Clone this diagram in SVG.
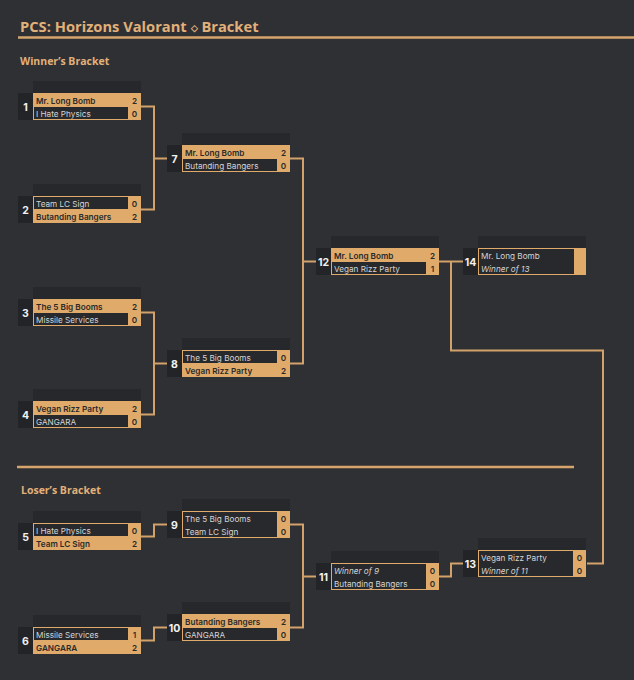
<svg xmlns="http://www.w3.org/2000/svg" width="634" height="680" viewBox="0 0 634 680">
<style>
.bg{fill:#2f3034}
.ttl{font-family:"Open Sans",Lato,sans-serif;font-weight:700;fill:#e2b079}
.hdr{fill:#27282b}
.num{fill:#232427}
.gold{fill:#e0aa6a}
.cell{fill:#28292c}
.n{font-family:Inter,"Liberation Sans",sans-serif;font-weight:700;font-size:10.5px;fill:#f2f2f2;text-anchor:middle}
.w{font-family:Inter,"Liberation Sans",sans-serif;font-weight:600;font-size:8.2px;fill:#2a2a2a}
.l{font-family:Inter,"Liberation Sans",sans-serif;font-size:8.2px;fill:#d4d4d4}
.i{font-family:Inter,"Liberation Sans",sans-serif;font-style:italic;font-size:8.2px;fill:#d4d4d4}
.s{font-family:Inter,"Liberation Sans",sans-serif;font-weight:600;font-size:8.2px;fill:#2a2a2a;text-anchor:middle}
.rule{stroke:#d6a46c;stroke-width:2.5;fill:none}
.con{stroke:#d3a16a;stroke-width:2;fill:none}
</style>
<rect class="bg" x="0" y="0" width="634" height="680"/>
<text class="ttl" x="20" y="32" font-size="14.7">PCS: Horizons Valorant <tspan font-size="9" dy="-1.5">◇</tspan><tspan dy="1.5"> Bracket</tspan></text>
<line class="rule" x1="18" y1="37.5" x2="634" y2="37.5"/>
<text class="ttl" x="20" y="64.5" font-size="10.5">Winner’s Bracket</text>
<line class="rule" x1="17" y1="467" x2="574" y2="467"/>
<text class="ttl" x="21" y="494" font-size="10.5">Loser’s Bracket</text>

<g id="connectors">
<path class="con" d="M141,106.5 H154 V209.5 H141 M154,158.5 H167"/>
<path class="con" d="M141,312.5 H154 V414.5 H141 M154,363.5 H167"/>
<path class="con" d="M290,158.5 H303 V363.5 H290 M303,261.5 H316"/>
<path class="con" d="M438,261.5 H463"/>
<path class="con" d="M451,261.5 V350.5 H603 V563.5 H587"/>
<path class="con" d="M141,536.5 H154 V524.5 H167"/>
<path class="con" d="M141,640.5 H154 V627.5 H167"/>
<path class="con" d="M290,524.5 H303 V627.5 H290 M303,576.5 H316"/>
<path class="con" d="M438,576.5 H451 V563.5 H463"/>
</g>

<g id="m1" transform="translate(33,93)">
<rect class="hdr" x="0" y="-12" width="108" height="12"/><rect class="num" x="-15" y="0" width="15" height="27"/><text class="n" x="-7.5" y="17.5">1</text>
<rect class="gold" x="0" y="0" width="108" height="27"/><rect class="cell" x="1" y="14" width="94" height="12"/>
<text class="w" x="3" y="10.5">Mr. Long Bomb</text><text class="s" x="101.5" y="10.5">2</text>
<text class="l" x="3" y="23.5">I Hate Physics</text><text class="s" x="101.5" y="23.5">0</text>
</g>
<g id="m2" transform="translate(33,196)">
<rect class="hdr" x="0" y="-12" width="108" height="12"/><rect class="num" x="-15" y="0" width="15" height="27"/><text class="n" x="-7.5" y="17.5">2</text>
<rect class="gold" x="0" y="0" width="108" height="27"/><rect class="cell" x="1" y="1" width="94" height="12"/>
<text class="l" x="3" y="10.5">Team LC Sign</text><text class="s" x="101.5" y="10.5">0</text>
<text class="w" x="3" y="23.5">Butanding Bangers</text><text class="s" x="101.5" y="23.5">2</text>
</g>
<g id="m3" transform="translate(33,299)">
<rect class="hdr" x="0" y="-12" width="108" height="12"/><rect class="num" x="-15" y="0" width="15" height="27"/><text class="n" x="-7.5" y="17.5">3</text>
<rect class="gold" x="0" y="0" width="108" height="27"/><rect class="cell" x="1" y="14" width="94" height="12"/>
<text class="w" x="3" y="10.5">The 5 Big Booms</text><text class="s" x="101.5" y="10.5">2</text>
<text class="l" x="3" y="23.5">Missile Services</text><text class="s" x="101.5" y="23.5">0</text>
</g>
<g id="m4" transform="translate(33,401)">
<rect class="hdr" x="0" y="-12" width="108" height="12"/><rect class="num" x="-15" y="0" width="15" height="27"/><text class="n" x="-7.5" y="17.5">4</text>
<rect class="gold" x="0" y="0" width="108" height="27"/><rect class="cell" x="1" y="14" width="94" height="12"/>
<text class="w" x="3" y="10.5">Vegan Rizz Party</text><text class="s" x="101.5" y="10.5">2</text>
<text class="l" x="3" y="23.5">GANGARA</text><text class="s" x="101.5" y="23.5">0</text>
</g>
<g id="m7" transform="translate(182,145)">
<rect class="hdr" x="0" y="-12" width="108" height="12"/><rect class="num" x="-15" y="0" width="15" height="27"/><text class="n" x="-7.5" y="17.5">7</text>
<rect class="gold" x="0" y="0" width="108" height="27"/><rect class="cell" x="1" y="14" width="94" height="12"/>
<text class="w" x="3" y="10.5">Mr. Long Bomb</text><text class="s" x="101.5" y="10.5">2</text>
<text class="l" x="3" y="23.5">Butanding Bangers</text><text class="s" x="101.5" y="23.5">0</text>
</g>
<g id="m8" transform="translate(182,350)">
<rect class="hdr" x="0" y="-12" width="108" height="12"/><rect class="num" x="-15" y="0" width="15" height="27"/><text class="n" x="-7.5" y="17.5">8</text>
<rect class="gold" x="0" y="0" width="108" height="27"/><rect class="cell" x="1" y="1" width="94" height="12"/>
<text class="l" x="3" y="10.5">The 5 Big Booms</text><text class="s" x="101.5" y="10.5">0</text>
<text class="w" x="3" y="23.5">Vegan Rizz Party</text><text class="s" x="101.5" y="23.5">2</text>
</g>
<g id="m12" transform="translate(331,248)">
<rect class="hdr" x="0" y="-12" width="108" height="12"/><rect class="num" x="-15" y="0" width="15" height="27"/><text class="n" x="-7.5" y="17.5">12</text>
<rect class="gold" x="0" y="0" width="108" height="27"/><rect class="cell" x="1" y="14" width="94" height="12"/>
<text class="w" x="3" y="10.5">Mr. Long Bomb</text><text class="s" x="101.5" y="10.5">2</text>
<text class="l" x="3" y="23.5">Vegan Rizz Party</text><text class="s" x="101.5" y="23.5">1</text>
</g>
<g id="m14" transform="translate(478,248)">
<rect class="hdr" x="0" y="-12" width="108" height="12"/><rect class="num" x="-15" y="0" width="15" height="27"/><text class="n" x="-7.5" y="17.5">14</text>
<rect class="gold" x="0" y="0" width="108" height="27"/><rect class="cell" x="1" y="1" width="95" height="25"/>
<text class="l" x="3" y="10.5">Mr. Long Bomb</text>
<text class="i" x="3" y="23.5">Winner of 13</text>
</g>
<g id="m5" transform="translate(33,523)">
<rect class="hdr" x="0" y="-12" width="108" height="12"/><rect class="num" x="-15" y="0" width="15" height="27"/><text class="n" x="-7.5" y="17.5">5</text>
<rect class="gold" x="0" y="0" width="108" height="27"/><rect class="cell" x="1" y="1" width="94" height="12"/>
<text class="l" x="3" y="10.5">I Hate Physics</text><text class="s" x="101.5" y="10.5">0</text>
<text class="w" x="3" y="23.5">Team LC Sign</text><text class="s" x="101.5" y="23.5">2</text>
</g>
<g id="m6" transform="translate(33,627)">
<rect class="hdr" x="0" y="-12" width="108" height="12"/><rect class="num" x="-15" y="0" width="15" height="27"/><text class="n" x="-7.5" y="17.5">6</text>
<rect class="gold" x="0" y="0" width="108" height="27"/><rect class="cell" x="1" y="1" width="94" height="12"/>
<text class="l" x="3" y="10.5">Missile Services</text><text class="s" x="101.5" y="10.5">1</text>
<text class="w" x="3" y="23.5">GANGARA</text><text class="s" x="101.5" y="23.5">2</text>
</g>
<g id="m9" transform="translate(182,511)">
<rect class="hdr" x="0" y="-12" width="108" height="12"/><rect class="num" x="-15" y="0" width="15" height="27"/><text class="n" x="-7.5" y="17.5">9</text>
<rect class="gold" x="0" y="0" width="108" height="27"/><rect class="cell" x="1" y="1" width="94" height="25"/>
<text class="l" x="3" y="10.5">The 5 Big Booms</text><text class="s" x="101.5" y="10.5">0</text>
<text class="l" x="3" y="23.5">Team LC Sign</text><text class="s" x="101.5" y="23.5">0</text>
</g>
<g id="m10" transform="translate(182,614)">
<rect class="hdr" x="0" y="-12" width="108" height="12"/><rect class="num" x="-15" y="0" width="15" height="27"/><text class="n" x="-7.5" y="17.5">10</text>
<rect class="gold" x="0" y="0" width="108" height="27"/><rect class="cell" x="1" y="14" width="94" height="12"/>
<text class="w" x="3" y="10.5">Butanding Bangers</text><text class="s" x="101.5" y="10.5">2</text>
<text class="l" x="3" y="23.5">GANGARA</text><text class="s" x="101.5" y="23.5">0</text>
</g>
<g id="m11" transform="translate(331,563)">
<rect class="hdr" x="0" y="-12" width="108" height="12"/><rect class="num" x="-15" y="0" width="15" height="27"/><text class="n" x="-7.5" y="17.5">11</text>
<rect class="gold" x="0" y="0" width="108" height="27"/><rect class="cell" x="1" y="1" width="94" height="25"/>
<text class="i" x="3" y="10.5">Winner of 9</text><text class="s" x="101.5" y="10.5">0</text>
<text class="l" x="3" y="23.5">Butanding Bangers</text><text class="s" x="101.5" y="23.5">0</text>
</g>
<g id="m13" transform="translate(478,550)">
<rect class="hdr" x="0" y="-12" width="108" height="12"/><rect class="num" x="-15" y="0" width="15" height="27"/><text class="n" x="-7.5" y="17.5">13</text>
<rect class="gold" x="0" y="0" width="108" height="27"/><rect class="cell" x="1" y="1" width="94" height="25"/>
<text class="l" x="3" y="10.5">Vegan Rizz Party</text><text class="s" x="101.5" y="10.5">0</text>
<text class="i" x="3" y="23.5">Winner of 11</text><text class="s" x="101.5" y="23.5">0</text>
</g>
</svg>
